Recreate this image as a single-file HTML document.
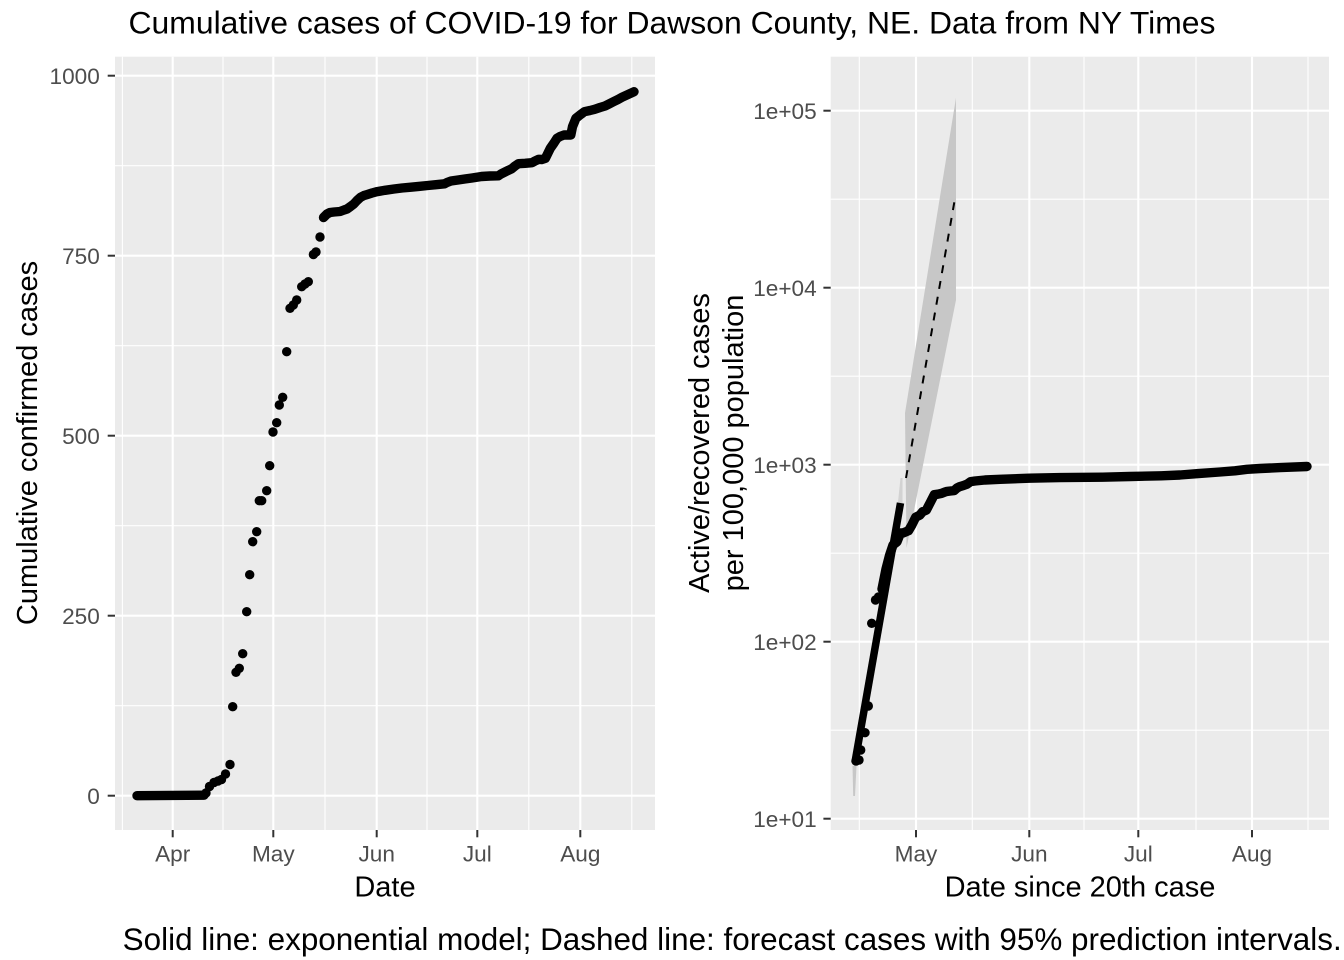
<!DOCTYPE html>
<html>
<head>
<meta charset="utf-8">
<style>
html,body{margin:0;padding:0;background:#fff;}
svg{display:block;}
text{font-family:"Liberation Sans",Arial,sans-serif;}
</style>
</head>
<body>
<svg width="1344" height="960" viewBox="0 0 1344 960" xmlns="http://www.w3.org/2000/svg">
<rect x="0" y="0" width="1344" height="960" fill="#ffffff"/>

<!-- Title -->
<text x="672" y="33.5" font-size="31.7" text-anchor="middle" fill="#000" textLength="1087" lengthAdjust="spacingAndGlyphs">Cumulative cases of COVID-19 for Dawson County, NE. Data from NY Times</text>

<!-- ================= LEFT PANEL ================= -->
<rect x="115" y="56.7" width="540" height="773.3" fill="#EBEBEB"/>
<g stroke="#fff" stroke-width="1.1">
  <line x1="115" x2="655" y1="165.7" y2="165.7"/>
  <line x1="115" x2="655" y1="345.7" y2="345.7"/>
  <line x1="115" x2="655" y1="525.7" y2="525.7"/>
  <line x1="115" x2="655" y1="705.7" y2="705.7"/>
  <line x1="122.4" x2="122.4" y1="56.7" y2="830"/>
  <line x1="223" x2="223" y1="56.7" y2="830"/>
  <line x1="325" x2="325" y1="56.7" y2="830"/>
  <line x1="427" x2="427" y1="56.7" y2="830"/>
  <line x1="528.8" x2="528.8" y1="56.7" y2="830"/>
  <line x1="631.8" x2="631.8" y1="56.7" y2="830"/>
</g>
<g stroke="#fff" stroke-width="2.1">
  <line x1="115" x2="655" y1="75.7" y2="75.7"/>
  <line x1="115" x2="655" y1="255.7" y2="255.7"/>
  <line x1="115" x2="655" y1="435.7" y2="435.7"/>
  <line x1="115" x2="655" y1="615.7" y2="615.7"/>
  <line x1="115" x2="655" y1="795.7" y2="795.7"/>
  <line x1="172.7" x2="172.7" y1="56.7" y2="830"/>
  <line x1="273.3" x2="273.3" y1="56.7" y2="830"/>
  <line x1="376.7" x2="376.7" y1="56.7" y2="830"/>
  <line x1="477.3" x2="477.3" y1="56.7" y2="830"/>
  <line x1="580.3" x2="580.3" y1="56.7" y2="830"/>
</g>

<!-- left data -->
<g fill="#000">
  <line x1="137" y1="795.7" x2="204" y2="795.2" stroke="#000" stroke-width="9.4" stroke-linecap="round"/>
  <circle cx="206" cy="793" r="4.7"/>
  <circle cx="209.5" cy="786.5" r="4.7"/>
  <circle cx="214" cy="782.5" r="4.7"/>
  <circle cx="218" cy="781" r="4.7"/>
  <circle cx="221.5" cy="779.5" r="4.7"/>
  <circle cx="225.5" cy="774" r="4.7"/>
  <circle cx="230" cy="764.5" r="4.7"/>
  <circle cx="232.7" cy="706.7" r="4.7"/>
  <circle cx="236" cy="672.3" r="4.7"/>
  <circle cx="239.3" cy="668.3" r="4.7"/>
  <circle cx="242.7" cy="653.7" r="4.7"/>
  <circle cx="246.7" cy="611.7" r="4.7"/>
  <circle cx="249.7" cy="574.7" r="4.7"/>
  <circle cx="252.7" cy="541.7" r="4.7"/>
  <circle cx="256.7" cy="531.7" r="4.7"/>
  <circle cx="259.3" cy="500.7" r="4.7"/>
  <circle cx="261.7" cy="500.7" r="4.7"/>
  <circle cx="266.7" cy="490.7" r="4.7"/>
  <circle cx="269.7" cy="465.7" r="4.7"/>
  <circle cx="273" cy="432" r="4.7"/>
  <circle cx="276.7" cy="422.7" r="4.7"/>
  <circle cx="279.3" cy="405" r="4.7"/>
  <circle cx="282.7" cy="397.3" r="4.7"/>
  <circle cx="286.7" cy="351.7" r="4.7"/>
  <circle cx="290" cy="308.3" r="4.7"/>
  <circle cx="293.3" cy="305" r="4.7"/>
  <circle cx="296.7" cy="300" r="4.7"/>
  <circle cx="301.7" cy="286.7" r="4.7"/>
  <circle cx="305" cy="284" r="4.7"/>
  <circle cx="308.3" cy="281.7" r="4.7"/>
  <circle cx="313.4" cy="254.5" r="4.7"/>
  <circle cx="316" cy="252" r="4.7"/>
  <circle cx="320" cy="237" r="4.7"/>
</g>
<polyline fill="none" stroke="#000" stroke-width="9.4" stroke-linecap="round" stroke-linejoin="round"
 points="323.5,217.5 327,214 330,212.5 334,212 340,211.5 344,210 347,209 350.5,206.5 353.8,204 357,200.5 360.5,197.3 364,195.5 367,194.6 372,193 377.3,191.6 385,190.3 394,189 402,188 411,187.2 420,186.3 427.7,185.5 436,184.7 444.5,183.8 447,182.5 451,181 458,180 464.7,179 472,178 481.5,176.5 490,176 498.3,175.8 501,174 505,172 508,170.5 511.8,168.7 515,166 518.5,163.7 525,163.3 532,162.7 535,161 538.7,159.3 542,159.5 545.4,158.3 550.3,148.3 554,143 557,138.3 560,136.5 564,135 570.8,135 572.5,126.7 575.9,118.3 580,115 584.4,111.7 590,110.5 594.7,109.3 600,107.5 605,106 609,104 613.5,101.7 618,99.5 622,97.3 628,94.5 634,91.7"/>

<!-- left axes ticks -->
<g stroke="#333" stroke-width="2">
  <line x1="107.7" x2="115" y1="75.7" y2="75.7"/>
  <line x1="107.7" x2="115" y1="255.7" y2="255.7"/>
  <line x1="107.7" x2="115" y1="435.7" y2="435.7"/>
  <line x1="107.7" x2="115" y1="615.7" y2="615.7"/>
  <line x1="107.7" x2="115" y1="795.7" y2="795.7"/>
  <line x1="172.7" x2="172.7" y1="830" y2="837.3"/>
  <line x1="273.3" x2="273.3" y1="830" y2="837.3"/>
  <line x1="376.7" x2="376.7" y1="830" y2="837.3"/>
  <line x1="477.3" x2="477.3" y1="830" y2="837.3"/>
  <line x1="580.3" x2="580.3" y1="830" y2="837.3"/>
</g>
<g font-size="22.6" fill="#4D4D4D" text-anchor="end">
  <text x="99.8" y="83.8">1000</text>
  <text x="99.8" y="263.8">750</text>
  <text x="99.8" y="443.8">500</text>
  <text x="99.8" y="623.8">250</text>
  <text x="99.8" y="803.8">0</text>
</g>
<g font-size="22.6" fill="#4D4D4D" text-anchor="middle">
  <text x="172.7" y="861.7">Apr</text>
  <text x="273.3" y="861.7">May</text>
  <text x="376.7" y="861.7">Jun</text>
  <text x="477.3" y="861.7">Jul</text>
  <text x="580.3" y="861.7">Aug</text>
</g>
<text x="385" y="896.7" font-size="29" text-anchor="middle" fill="#000">Date</text>
<text transform="translate(37,443) rotate(-90)" font-size="29" text-anchor="middle" fill="#000">Cumulative confirmed cases</text>

<!-- ================= RIGHT PANEL ================= -->
<rect x="830.7" y="56.7" width="498.3" height="773.3" fill="#EBEBEB"/>
<g stroke="#fff" stroke-width="1.1">
  <line x1="830.7" x2="1329" y1="199.2" y2="199.2"/>
  <line x1="830.7" x2="1329" y1="376.2" y2="376.2"/>
  <line x1="830.7" x2="1329" y1="553.2" y2="553.2"/>
  <line x1="830.7" x2="1329" y1="730.2" y2="730.2"/>
  <line x1="859.3" x2="859.3" y1="56.7" y2="830"/>
  <line x1="972.3" x2="972.3" y1="56.7" y2="830"/>
  <line x1="1084" x2="1084" y1="56.7" y2="830"/>
  <line x1="1196" x2="1196" y1="56.7" y2="830"/>
  <line x1="1308" x2="1308" y1="56.7" y2="830"/>
</g>
<g stroke="#fff" stroke-width="2.1">
  <line x1="830.7" x2="1329" y1="110.7" y2="110.7"/>
  <line x1="830.7" x2="1329" y1="287.7" y2="287.7"/>
  <line x1="830.7" x2="1329" y1="464.7" y2="464.7"/>
  <line x1="830.7" x2="1329" y1="641.7" y2="641.7"/>
  <line x1="830.7" x2="1329" y1="818.7" y2="818.7"/>
  <line x1="916" x2="916" y1="56.7" y2="830"/>
  <line x1="1029.3" x2="1029.3" y1="56.7" y2="830"/>
  <line x1="1138.3" x2="1138.3" y1="56.7" y2="830"/>
  <line x1="1252" x2="1252" y1="56.7" y2="830"/>
</g>

<!-- ribbons -->
<polygon points="905,413 956,97.7 956,300 906.5,548" fill="#C7C7C7"/>
<polygon points="898,502 900.5,478 902.5,478 902.5,506" fill="#D2D2D2"/>
<polygon points="852.5,766 856.5,766 855,796 853.2,796" fill="#C7C7C7"/>

<!-- dashed forecast -->
<line x1="906" y1="478" x2="954.3" y2="202.3" stroke="#000" stroke-width="2" stroke-dasharray="8,8"/>

<!-- solid model line -->
<line x1="855" y1="762" x2="900.5" y2="503" stroke="#000" stroke-width="7.5" stroke-linecap="butt"/>

<!-- right data -->
<g fill="#000">
  <circle cx="856" cy="761" r="4.7"/>
  <circle cx="859" cy="760" r="4.7"/>
  <circle cx="860.7" cy="750" r="4.7"/>
  <circle cx="865" cy="732.7" r="4.7"/>
  <circle cx="868.3" cy="706" r="4.7"/>
  <circle cx="871.7" cy="623.3" r="4.7"/>
  <circle cx="875.5" cy="600" r="4.7"/>
  <circle cx="878.5" cy="597" r="4.7"/>
</g>
<polyline fill="none" stroke="#000" stroke-width="9.4" stroke-linecap="round" stroke-linejoin="round"
 points="882,589 886,569 889.5,555.5 893,545 897,541.8 900.5,533 903,533 908.5,530.7 912,524.7 915.7,517.2 919.7,515.2 922.6,511.7 926.3,510.2 930.6,501.9 934.3,494.7 937.8,494.2 941.5,493.4 945,492 947,491.4 950.5,491 954.2,490.6 957,488 959.8,486.6 963.5,485.5 967,484.2 970.7,481.6 975,481 985,480 1000,479.3 1029.4,478.2 1060,477.6 1102.6,477.2 1130,476.5 1161.3,475.8 1180,475 1198.2,473.6 1220,472 1235,470.8 1247,469.3 1260,468.5 1280,467.6 1307,466.5"/>

<!-- right axes ticks -->
<g stroke="#333" stroke-width="2">
  <line x1="823.4" x2="830.7" y1="110.7" y2="110.7"/>
  <line x1="823.4" x2="830.7" y1="287.7" y2="287.7"/>
  <line x1="823.4" x2="830.7" y1="464.7" y2="464.7"/>
  <line x1="823.4" x2="830.7" y1="641.7" y2="641.7"/>
  <line x1="823.4" x2="830.7" y1="818.7" y2="818.7"/>
  <line x1="916" x2="916" y1="830" y2="837.3"/>
  <line x1="1029.3" x2="1029.3" y1="830" y2="837.3"/>
  <line x1="1138.3" x2="1138.3" y1="830" y2="837.3"/>
  <line x1="1252" x2="1252" y1="830" y2="837.3"/>
</g>
<g font-size="22.6" fill="#4D4D4D" text-anchor="end">
  <text x="816.7" y="118.8">1e+05</text>
  <text x="816.7" y="295.8">1e+04</text>
  <text x="816.7" y="472.8">1e+03</text>
  <text x="816.7" y="649.8">1e+02</text>
  <text x="816.7" y="826.8">1e+01</text>
</g>
<g font-size="22.6" fill="#4D4D4D" text-anchor="middle">
  <text x="916" y="861.7">May</text>
  <text x="1029.3" y="861.7">Jun</text>
  <text x="1138.3" y="861.7">Jul</text>
  <text x="1252" y="861.7">Aug</text>
</g>
<text x="1080" y="896.7" font-size="29" text-anchor="middle" fill="#000">Date since 20th case</text>
<text transform="translate(709,443) rotate(-90)" font-size="29" text-anchor="middle" fill="#000">Active/recovered cases</text>
<text transform="translate(743,443) rotate(-90)" font-size="29" text-anchor="middle" fill="#000">per 100,000 population</text>

<!-- Caption -->
<text x="1341.7" y="950" font-size="31.4" text-anchor="end" fill="#000" textLength="1219" lengthAdjust="spacingAndGlyphs">Solid line: exponential model; Dashed line: forecast cases with 95% prediction intervals.</text>
</svg>
</body>
</html>
